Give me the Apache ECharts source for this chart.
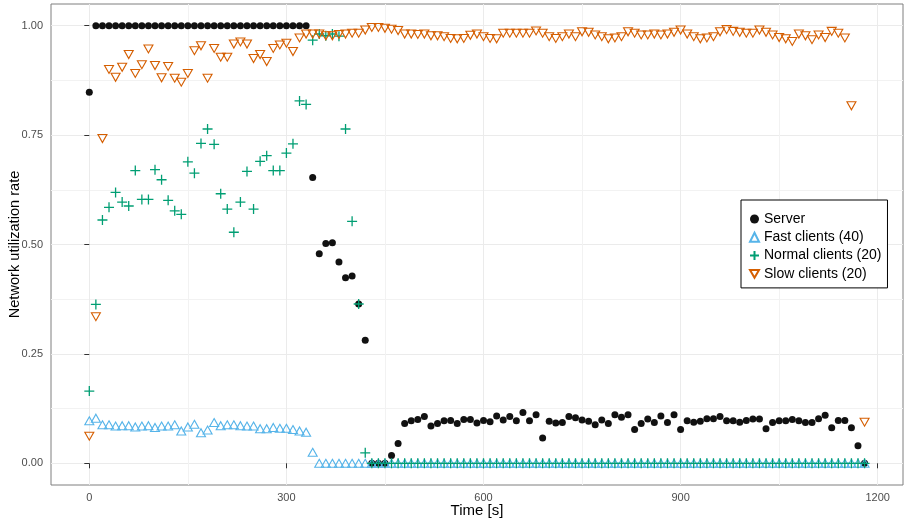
<!DOCTYPE html>
<html>
<head>
<meta charset="utf-8">
<script src="https://cdn.jsdelivr.net/npm/echarts@6/dist/echarts.min.js"></script>
<style>
  html, body { margin: 0; padding: 0; background: #fff; }
  #mapDiv { width: 904px; height: 522px; }
</style>
</head>
<body>
<div id="mapDiv"></div>
<script>
// time axis (s), one sample every 10 s
var time = [0,10,20,30,40,50,60,70,80,90,100,110,120,130,140,150,160,170,180,190,
  200,210,220,230,240,250,260,270,280,290,300,310,320,330,340,350,360,370,380,390,
  400,410,420,430,440,450,460,470,480,490,500,510,520,530,540,550,560,570,580,590,
  600,610,620,630,640,650,660,670,680,690,700,710,720,730,740,750,760,770,780,790,
  800,810,820,830,840,850,860,870,880,890,900,910,920,930,940,950,960,970,980,990,
  1000,1010,1020,1030,1040,1050,1060,1070,1080,1090,1100,1110,1120,1130,1140,1150,1160,1170,1180];

var server = [0.848,1,1,1,1,1,1,1,1,1,1,1,1,1,1,1,1,1,1,1,
  1,1,1,1,1,1,1,1,1,1,1,1,1,1,0.653,0.479,0.502,0.504,0.460,0.424,
  0.428,0.364,0.281,0,0,0,0.018,0.045,0.091,0.097,0.100,0.107,0.085,0.091,0.097,0.098,0.091,0.100,0.100,0.092,
  0.098,0.095,0.108,0.099,0.107,0.097,0.116,0.097,0.111,0.058,0.096,0.092,0.093,0.107,0.104,0.099,0.096,0.088,0.099,0.091,
  0.111,0.105,0.111,0.077,0.091,0.101,0.093,0.108,0.093,0.111,0.077,0.097,0.094,0.096,0.102,0.102,0.107,0.097,0.097,0.094,
  0.098,0.101,0.101,0.079,0.093,0.097,0.097,0.100,0.097,0.093,0.093,0.102,0.110,0.081,0.098,0.098,0.081,0.040,0];

var fast = [0.097,0.103,0.088,0.088,0.085,0.086,0.086,0.083,0.085,0.086,0.082,0.085,0.085,0.088,0.074,0.083,0.089,0.070,0.076,0.093,
  0.086,0.088,0.088,0.086,0.085,0.085,0.079,0.079,0.082,0.080,0.080,0.077,0.074,0.071,0.025,0,0,0,0,0,
  0,0,0,0,0,0,0,0,0,0,0,0,0,0,0,0,0,0,0,0,
  0,0,0,0,0,0,0,0,0,0,0,0,0,0,0,0,0,0,0,0,
  0,0,0,0,0,0,0,0,0,0,0,0,0,0,0,0,0,0,0,0,
  0,0,0,0,0,0,0,0,0,0,0,0,0,0,0,0,0,0,0];

var normal = [0.165,0.363,0.556,0.585,0.619,0.597,0.588,0.669,0.603,0.603,0.671,0.648,0.601,0.577,0.569,0.689,0.663,0.731,0.764,0.729,
  0.616,0.581,0.528,0.597,0.667,0.581,0.690,0.703,0.669,0.669,0.709,0.730,0.828,0.820,0.967,0.981,0.977,0.981,0.976,0.764,
  0.553,0.364,0.024,0,0,0,0,0,0,0,0,0,0,0,0,0,0,0,0,0,
  0,0,0,0,0,0,0,0,0,0,0,0,0,0,0,0,0,0,0,0,
  0,0,0,0,0,0,0,0,0,0,0,0,0,0,0,0,0,0,0,0,
  0,0,0,0,0,0,0,0,0,0,0,0,0,0,0,0,0,0,0];

var slow = [0.062,0.335,0.742,0.900,0.882,0.905,0.934,0.891,0.911,0.947,0.909,0.881,0.907,0.880,0.871,0.891,0.943,0.954,0.880,0.948,
  0.928,0.928,0.958,0.963,0.958,0.925,0.934,0.918,0.948,0.956,0.960,0.941,0.972,0.981,0.981,0.981,0.977,0.977,0.980,0.981,
  0.983,0.983,0.990,0.996,0.996,0.994,0.992,0.989,0.981,0.981,0.980,0.981,0.977,0.977,0.975,0.971,0.970,0.971,0.978,0.981,
  0.975,0.971,0.970,0.983,0.983,0.983,0.983,0.983,0.988,0.983,0.975,0.971,0.975,0.981,0.975,0.986,0.985,0.979,0.975,0.970,
  0.972,0.975,0.986,0.983,0.979,0.979,0.981,0.979,0.981,0.985,0.990,0.981,0.975,0.970,0.972,0.975,0.986,0.991,0.987,0.985,
  0.983,0.983,0.990,0.985,0.979,0.973,0.970,0.964,0.981,0.977,0.968,0.979,0.973,0.987,0.983,0.972,0.817,null,0.094];

var xTicks = [0, 300, 600, 900, 1200];
var xMinor = [150, 450, 750, 1050];
var yTicks = [0, 0.25, 0.5, 0.75, 1];
var yMinor = [0.125, 0.375, 0.625, 0.875];

function pairs(vals) {
    var out = [];
    for (var i = 0; i < time.length; i++) {
        if (vals[i] !== null && vals[i] !== undefined) out.push([time[i], vals[i]]);
    }
    return out;
}

var dom = document.getElementById("mapDiv");
var myChart = echarts.init(dom, null, { renderer: 'canvas' });

var xMin = -58.3, xMax = 1238.5;
var yMin = -0.0496, yMax = 1.0496;
var triDown = 'path://M0,0L10,0L5,8.66Z';

var option = {
    animation: false,
    backgroundColor: '#fff',
    textStyle: { fontFamily: 'Liberation Sans, Arial, sans-serif' },
    grid: {
        left: 51, right: 1, top: 4, bottom: 37,
        containLabel: false,
        outerBoundsMode: 'none',
        show: true,
        borderColor: '#7f7f7f',
        borderWidth: 1,
        backgroundColor: 'transparent'
    },
    legend: {
        orient: 'vertical',
        left: 741,
        top: 200,
        padding: [11, 6, 6, 8],
        itemGap: 2.3,
        itemWidth: 9,
        itemHeight: 9,
        selectedMode: false,
        backgroundColor: '#fff',
        borderColor: '#000',
        borderWidth: 1,
        textStyle: { fontSize: 14, color: '#000', lineHeight: 16, fontFamily: 'Liberation Sans, Arial, sans-serif' },
        data: [
            { name: 'Server' },
            { name: 'Fast clients (40)' },
            { name: 'Normal clients (20)' },
            { name: 'Slow clients (20)', icon: triDown }
        ]
    },
    xAxis: [
        {
            type: 'value',
            min: xMin, max: xMax,
            position: 'bottom',
            name: 'Time [s]',
            nameLocation: 'middle',
            nameGap: 18,
            nameMoveOverlap: false,
            nameTextStyle: { fontSize: 15, color: '#000' },
            axisLine: { show: false },
            axisTick: { show: true, length: 5, customValues: xTicks, lineStyle: { color: '#333' } },
            axisLabel: {
                customValues: xTicks, fontSize: 11, color: '#4d4d4d', margin: 7,
                formatter: function (v) { return String(v); }
            },
            splitLine: { show: true, lineStyle: { color: '#ebebeb', width: 1 } }
        },
        {
            type: 'value',
            min: xMin, max: xMax,
            position: 'top',
            axisLine: { show: false },
            axisTick: { show: false, customValues: xMinor },
            axisLabel: { show: false, customValues: xMinor },
            splitLine: { show: true, lineStyle: { color: '#f2f2f2', width: 1 } }
        }
    ],
    yAxis: [
        {
            type: 'value',
            min: yMin, max: yMax,
            position: 'left',
            name: 'Network utilization rate',
            nameLocation: 'middle',
            nameGap: 29,
            nameMoveOverlap: false,
            nameTextStyle: { fontSize: 14.6, color: '#000' },
            axisLine: { show: false },
            axisTick: { show: true, length: 5, customValues: yTicks, lineStyle: { color: '#333' } },
            axisLabel: {
                customValues: yTicks, fontSize: 11, color: '#4d4d4d', margin: 8,
                formatter: function (v) { return v.toFixed(2); }
            },
            splitLine: { show: true, lineStyle: { color: '#ebebeb', width: 1 } }
        },
        {
            type: 'value',
            min: yMin, max: yMax,
            position: 'right',
            axisLine: { show: false },
            axisTick: { show: false, customValues: yMinor },
            axisLabel: { show: false, customValues: yMinor },
            splitLine: { show: true, lineStyle: { color: '#f2f2f2', width: 1 } }
        }
    ],
    series: [
        {
            name: 'Server',
            type: 'scatter',
            symbol: 'circle',
            symbolSize: 7,
            itemStyle: { color: '#111', opacity: 1 },
            data: pairs(server)
        },
        {
            name: 'Fast clients (40)',
            type: 'scatter',
            symbol: 'triangle',
            symbolSize: [9, 8],
            itemStyle: { color: 'rgba(0,0,0,0)', borderColor: '#56B4E9', borderWidth: 1.1, opacity: 1 },
            data: pairs(fast)
        },
        {
            name: 'Normal clients (20)',
            type: 'scatter',
            symbol: 'path://M5,0L5,10M0,5L10,5',
            symbolSize: 10,
            itemStyle: { color: 'rgba(0,0,0,0)', borderColor: '#009E73', borderWidth: 1.3, opacity: 1 },
            data: pairs(normal)
        },
        {
            name: 'Slow clients (20)',
            type: 'scatter',
            symbol: triDown,
            symbolSize: [9, 8],
            itemStyle: { color: 'rgba(0,0,0,0)', borderColor: '#D55E00', borderWidth: 1.1, opacity: 1 },
            data: pairs(slow)
        }
    ]
};

myChart.setOption(option);
</script>
</body>
</html>
